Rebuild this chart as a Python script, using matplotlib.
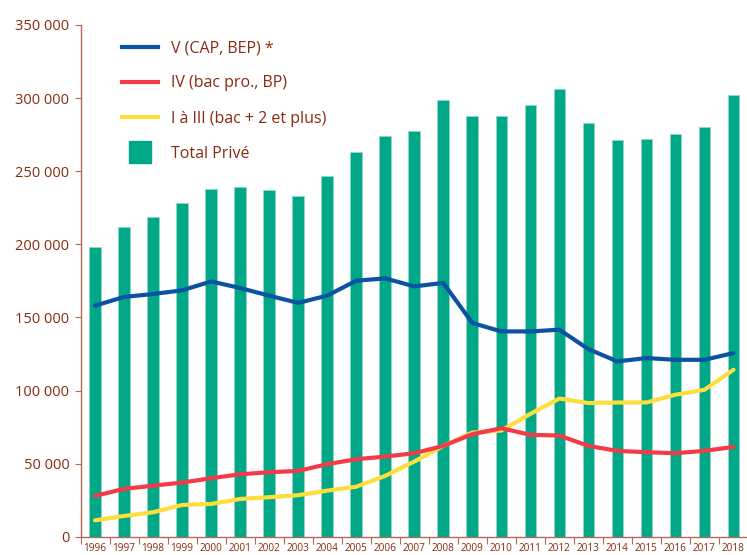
import matplotlib
matplotlib.use("Agg")
import matplotlib.pyplot as plt
from matplotlib.lines import Line2D
from matplotlib.ticker import FuncFormatter, FixedLocator
import numpy as np

plt.rcParams['font.family'] = ['Open Sans', 'DejaVu Sans']

years = [str(y) for y in range(1996, 2019)]
total_prive = [197900, 211900, 218800, 228300, 237900, 239500, 236800, 233100,
               246600, 263000, 274000, 277400, 298600, 287900, 287600, 295000,
               305900, 283100, 271000, 271900, 275600, 280400, 302000]
niveau_v = [158000, 164000, 166000, 168500, 174600, 170100, 164900, 159900,
            164900, 175100, 176700, 171200, 173600, 146200, 140400, 140400,
            141600, 128300, 119900, 122200, 121000, 121000, 125600]
niveau_iv = [27900, 32700, 34900, 37000, 40000, 42700, 44100, 45000,
             49600, 53000, 54800, 57100, 62100, 70100, 74200, 69700,
             69200, 62100, 58700, 57800, 57100, 58700, 61400]
niveau_i_iii = [11200, 14200, 16700, 21700, 22400, 25800, 27000, 28400,
                31500, 34200, 41600, 51400, 62100, 71200, 72600, 84000,
                94500, 91400, 91800, 91800, 97100, 100500, 114200]
labels = ["V (CAP, BEP) *", "IV (bac pro., BP)", "I à III (bac + 2 et plus)", "Total Privé"]

GREEN = "#00A888"
BLUE = "#0A52A2"
RED = "#F43A48"
YELLOW = "#FFDD3C"
TXT = "#8A2A12"
AX = "#B46A58"

W, H = 747, 555
fig = plt.figure(figsize=(W / 100, H / 100), dpi=100)
ax = fig.add_axes([80.5 / W, 18.3 / H, 667.5 / W, 511.7 / H])

x = np.arange(len(years))
ax.bar(x, total_prive, width=0.4, color=GREEN, edgecolor="#8fd8c6", linewidth=0.6, zorder=1)
ax.plot(x, niveau_v, color=BLUE, lw=3.0, solid_capstyle='round', zorder=4)
ax.plot(x, niveau_iv, color=RED, lw=3.0, solid_capstyle='round', zorder=3)
ax.plot(x, niveau_i_iii, color=YELLOW, lw=3.0, solid_capstyle='round', zorder=2)

ax.set_xlim(-0.5, len(years) - 0.5)
ax.set_ylim(0, 350000)

ax.set_yticks(np.arange(0, 350001, 50000))
ax.yaxis.set_major_formatter(FuncFormatter(lambda v, p: f"{int(v):,}".replace(",", " ")))
ax.tick_params(axis='y', direction='out', length=4, width=0.8, color=AX,
               labelsize=10.5, labelcolor=TXT, pad=4)

ax.set_xticks(x)
ax.set_xticklabels(years)
ax.tick_params(axis='x', which='major', length=0, labelsize=7.2, labelcolor=TXT, pad=4.5)
ax.xaxis.set_minor_locator(FixedLocator(np.arange(-0.5, len(years), 1.0)))
ax.tick_params(axis='x', which='minor', direction='out', length=5, width=0.8, color=AX)

for s in ['top', 'right']:
    ax.spines[s].set_visible(False)
for s in ['left', 'bottom']:
    ax.spines[s].set_color(AX)
    ax.spines[s].set_linewidth(1.0)

handles = [
    Line2D([0], [0], color=BLUE, lw=3.0),
    Line2D([0], [0], color=RED, lw=3.0),
    Line2D([0], [0], color=YELLOW, lw=3.0),
    Line2D([0], [0], color=GREEN, lw=0, marker='s', markersize=16.5),
]
leg = ax.legend(handles, labels, loc='upper left', bbox_to_anchor=(30 / 667.5, 1.0 - 4 / 511.7),
                frameon=False, fontsize=11.5, handlelength=2.25, handletextpad=0.85,
                labelspacing=1.2, borderaxespad=0.3)
for t in leg.get_texts():
    t.set_color(TXT)

fig.savefig("out.png", dpi=100)
